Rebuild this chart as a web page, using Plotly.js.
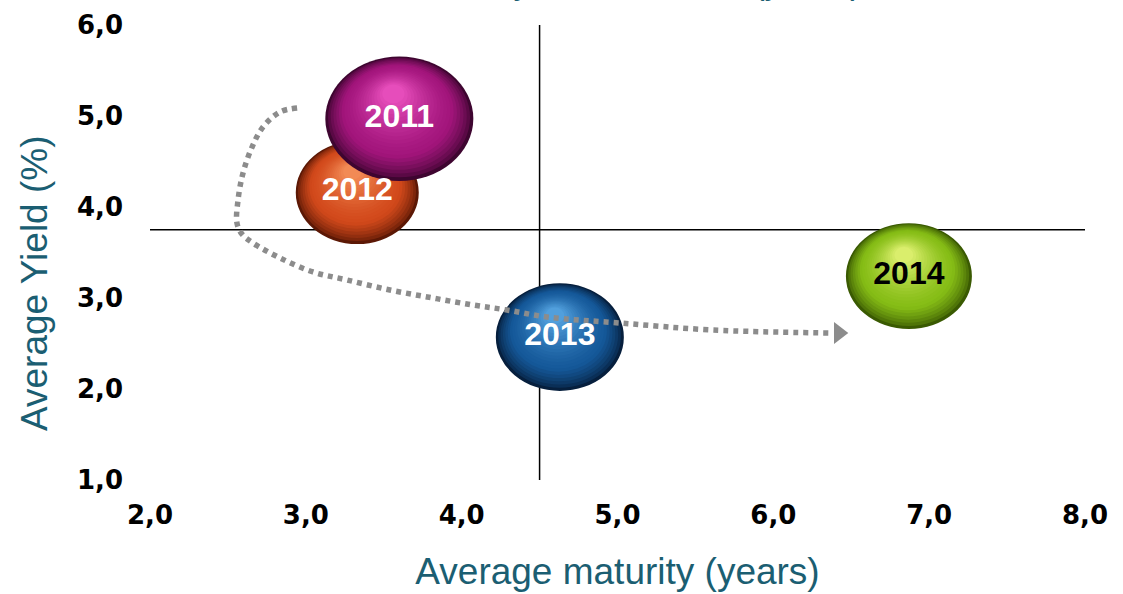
<!DOCTYPE html>
<html>
<head>
<meta charset="utf-8">
<script src="https://cdn.plot.ly/plotly-3.0.1.min.js"></script>
<style>html,body{margin:0;padding:0;background:#fff;}#chart{width:1123px;height:594px;}</style>
</head>
<body>
<div id="chart"></div>
<script>
// ---- data ----
const years = ['2011', '2012', '2013', '2014'];
const maturity = [3.60, 3.33, 4.63, 6.87];     // average maturity (years)
const avgYield = [4.97, 4.16, 2.57, 3.24];     // average yield (%)
const bubbleSize = [148, 123, 128, 126];       // bubble diameter (px)
const refMaturity = 4.5;                       // vertical reference line
const refYield = 3.75;                         // horizontal reference line
const pathX = [2.944, 2.834, 2.725, 2.655, 2.597, 2.565, 2.558, 2.590, 2.661, 2.834, 3.046, 3.264, 3.540, 3.816, 4.073, 4.291, 4.548, 5.017, 5.614, 6.365];
const pathY = [5.088, 5.044, 4.879, 4.659, 4.374, 4.077, 3.824, 3.703, 3.604, 3.440, 3.286, 3.198, 3.088, 3.000, 2.923, 2.868, 2.791, 2.725, 2.648, 2.615];
const arrowTip = {x: 6.42, y: 2.615};
const xTicks = [2, 3, 4, 5, 6, 7, 8];
const yTicks = [1, 2, 3, 4, 5, 6];

// ---- styles ----
const bubbleColors = [
  {dark: '#3e0530', base: '#a3157c', light: '#e64dbb'},
  {dark: '#5c1805', base: '#d2491b', light: '#f28a55'},
  {dark: '#061f3d', base: '#15599a', light: '#519fdc'},
  {dark: '#3a5a02', base: '#86bd16', light: '#daee6c'}
];
const labelColors = ['#ffffff', '#ffffff', '#ffffff', '#000000'];
const teal = '#1b5e72';
const W = 1123, H = 594;
const M = {l: 150, r: 38, t: 25, b: 114};
const xRange = [2, 8], yRange = [1, 6];
const pxPerX = (W - M.l - M.r) / (xRange[1] - xRange[0]);
const pxPerY = (H - M.t - M.b) / (yRange[1] - yRange[0]);
const aspect = 0.84;

function hex2rgb(h) { return [1, 3, 5].map(i => parseInt(h.substr(i, 2), 16)); }
function mix(a, b, t) {
  const A = hex2rgb(a), B = hex2rgb(b);
  return 'rgb(' + A.map((v, i) => Math.round(v + (B[i] - v) * t)).join(',') + ')';
}

const shapes = [
  {type: 'line', layer: 'below', xref: 'x', yref: 'y', x0: xRange[0], x1: xRange[1], y0: refYield, y1: refYield, line: {color: '#000', width: 1.5}},
  {type: 'line', layer: 'below', xref: 'x', yref: 'y', x0: refMaturity, x1: refMaturity, y0: yRange[0], y1: yRange[1], line: {color: '#000', width: 1.5}}
];

// draw order: 2014, 2013, 2012, 2011 (2011 on top)
const N = 22;
[3, 2, 1, 0].forEach(i => {
  const rx = bubbleSize[i] / 2 / pxPerX;          // data units
  const ry = bubbleSize[i] * aspect / 2 / pxPerY;
  const dxh = -0.08 * rx, dyh = 0.40 * ry;        // highlight offset (up-left)
  const c = bubbleColors[i];
  for (let k = 0; k < N; k++) {
    const t = k / (N - 1);
    const s = 1 - 0.85 * t;
    const cx = maturity[i] + dxh * t;
    const cy = avgYield[i] + dyh * t;
    let col;
    if (t < 0.3) col = mix(c.dark, c.base, Math.pow(t / 0.3, 0.7));
    else col = mix(c.base, c.light, Math.pow((t - 0.3) / 0.7, 1.4));
    shapes.push({
      type: 'circle', layer: 'below', xref: 'x', yref: 'y',
      x0: cx - rx * s, x1: cx + rx * s, y0: cy - ry * s, y1: cy + ry * s,
      fillcolor: col, line: {width: 0}
    });
  }
});

const traces = [
  {
    x: pathX, y: pathY, type: 'scatter', mode: 'lines',
    line: {color: '#8c8c8c', width: 5.5, dash: '5px,5px', shape: 'spline', smoothing: 1},
    hoverinfo: 'skip'
  },
  {
    x: [arrowTip.x], y: [arrowTip.y], type: 'scatter', mode: 'markers',
    marker: {symbol: 'triangle-right', size: 19, color: '#8c8c8c', line: {width: 0}},
    hoverinfo: 'skip'
  },
  {
    x: maturity, y: avgYield, type: 'scatter', mode: 'text', text: years,
    textposition: 'middle center',
    textfont: {family: 'Liberation Sans, Arial, sans-serif', size: 32, weight: 'bold', color: labelColors},
    hoverinfo: 'skip'
  }
];

const tickFont = {family: 'DejaVu Sans, sans-serif', size: 26, weight: 'bold', color: '#000'};
const titleFont = {family: 'Liberation Sans, Arial, sans-serif', size: 37, color: teal};
const layout = {
  width: W, height: H, margin: M,
  paper_bgcolor: '#fff', plot_bgcolor: '#fff',
  showlegend: false, separators: ',.',
  xaxis: {
    range: xRange, tickvals: xTicks, tickformat: '.1f',
    showgrid: false, zeroline: false, showline: false, ticks: '',
    tickfont: tickFont, ticklabelstandoff: 17, automargin: false,
    title: {text: 'Average maturity (years)', font: titleFont, standoff: 29}
  },
  yaxis: {
    range: yRange, tickvals: yTicks, tickformat: '.1f',
    showgrid: false, zeroline: false, showline: false, ticks: '',
    tickfont: tickFont, ticklabelstandoff: 26, automargin: false
  },
  shapes: shapes,
  annotations: [
    {
      text: 'Evolution of yield and tenor (years)', xref: 'paper', yref: 'paper',
      x: 0.4717, y: 1, xanchor: 'center', yanchor: 'bottom', yshift: 22, showarrow: false,
      font: {family: 'Liberation Sans, Arial, sans-serif', size: 35, color: teal}
    },
    {
      text: 'Average Yield (%)', xref: 'paper', yref: 'paper',
      x: -0.123, y: 0.433, xanchor: 'center', yanchor: 'middle', textangle: -90, showarrow: false,
      font: titleFont
    }
  ]
};

Plotly.newPlot('chart', traces, layout, {displayModeBar: false, staticPlot: true});
</script>
</body>
</html>
